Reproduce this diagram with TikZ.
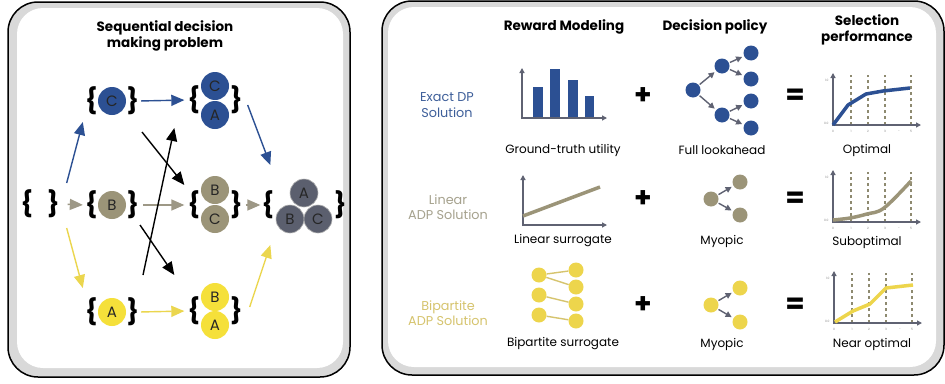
\documentclass[tikz,border=0pt]{standalone}
\usepackage{fontspec}
\setmainfont{Poppins}
\usetikzlibrary{arrows.meta,calc,positioning}

\definecolor{dpblue}{HTML}{2C5093}
\definecolor{lintan}{HTML}{9B9478}
\definecolor{linarr}{HTML}{9D9886}
\definecolor{bipyel}{HTML}{F5E03A}
\definecolor{bipdot}{HTML}{EDD54C}
\definecolor{biparr}{HTML}{EBD64E}
\definecolor{setgray}{HTML}{5B5F6E}
\definecolor{axisgray}{HTML}{5F6272}
\definecolor{dashtan}{HTML}{8E8A70}
\definecolor{bandgray}{HTML}{D9D9D9}
\definecolor{dptext}{HTML}{3E5F9A}
\definecolor{lintext}{HTML}{A6A28E}
\definecolor{biptext}{HTML}{D6C46E}

\tikzset{
  setarr/.style={-{Triangle[length=13pt,width=11pt]}, line width=1.4pt},
  axarr/.style={-{Triangle[length=5pt,width=5pt]}, line width=1.3pt, axisgray},
  treearr/.style={-{Triangle[length=6pt,width=6pt]}, line width=1.4pt, axisgray,
    shorten <=1pt, shorten >=2pt},
  crc/.style={circle, minimum size=28pt, inner sep=0pt, text=black!85,
    font=\fontsize{15}{15}\selectfont},
  dot/.style={circle, minimum size=15pt, inner sep=0pt},
  setnode/.style={inner sep=0pt, font=\fontsize{25}{25}\selectfont\bfseries},
  lbl/.style={font=\fontsize{12}{14}\selectfont},
  hdr/.style={font=\fontsize{13.5}{16}\selectfont\bfseries, align=center},
  rowlbl/.style={font=\fontsize{12.8}{15.5}\selectfont, align=center},
  opsign/.style={font=\fontsize{28}{28}\selectfont\bfseries},
  tick/.style={font=\fontsize{3}{3}\selectfont, text=gray}
}

% axes, dashed steps and tick labels of one performance chart
\newcommand{\perfaxes}[2]{
  \foreach \dx in {18,35,52,78}
    \draw[dashtan, line width=1.2pt, dash pattern=on 3pt off 3pt] (#1+\dx,#2) -- (#1+\dx,#2-50);
  \draw[axarr] (#1,#2+1) -- (#1,#2-52);
  \draw[axarr] (#1-1,#2) -- (#1+88,#2);
  \foreach \dx/\t in {0/0,18/1,35/2,52/3,66/{...},78/5}
    \node[tick] at (#1+\dx,#2+6) {\t};
  \node[tick, anchor=east] at (#1-1,#2-45) {1.0};
  \node[tick, anchor=east] at (#1-1,#2-2) {0.0};
}

\begin{document}
\begin{tikzpicture}[x=1pt, y=-1pt]
  \useasboundingbox (0,0) rectangle (945,383);

  % panels
  \draw[line width=1.5pt, fill=bandgray, rounded corners=30pt] (8,2) rectangle (350,377);
  \fill[white, rounded corners=26pt] (17,8) rectangle (343,368);
  \draw[line width=1.5pt, fill=bandgray, rounded corners=30pt] (382,1) rectangle (944,375);
  \fill[white, rounded corners=26pt] (388,7) rectangle (936,367);

  % left panel: sets of selected items
  \node[hdr] (title) at (165,36) {Sequential decision\\making problem};

  \node[setnode] (e) at (40,204) {\{\hspace{14pt}\}};
  \node[setnode] (sC) at (112,101) {\{\hspace{29pt}\}};
  \node[setnode] (sB) at (112,205) {\{\hspace{29pt}\}};
  \node[setnode] (sA) at (112,312) {\{\hspace{29pt}\}};
  \node[setnode] (sCA) at (215,100) {\{\hspace{30pt}\}};
  \node[setnode] (sBC) at (215,205) {\{\hspace{30pt}\}};
  \node[setnode] (sBA) at (215,311) {\{\hspace{30pt}\}};
  \node[setnode] (sABC) at (304,205) {\{\hspace{60pt}\}};

  \node[crc, fill=dpblue] (cC) at (112,101) {C};
  \node[crc, fill=lintan] (cB) at (112,205) {B};
  \node[crc, fill=bipyel] (cA) at (112,312) {A};
  \node[crc, fill=dpblue] (cCA1) at (215,86) {C};
  \node[crc, fill=dpblue] (cCA2) at (215,115) {A};
  \node[crc, fill=lintan] (cBC1) at (215,190) {B};
  \node[crc, fill=lintan] (cBC2) at (215,219) {C};
  \node[crc, fill=bipyel] (cBA1) at (215,297) {B};
  \node[crc, fill=bipyel] (cBA2) at (215,325) {A};
  \node[crc, fill=setgray, draw=gray!60, line width=0.6pt] (cABC1) at (304,193) {A};
  \node[crc, fill=setgray, draw=gray!60, line width=0.6pt] (cABC2) at (290,219) {B};
  \node[crc, fill=setgray, draw=gray!60, line width=0.6pt] (cABC3) at (318,219) {C};

  % transitions
  \draw[setarr, dpblue] ($(e.east)+(7,-21)$) -- ($(sC.west)+(-2,21)$);
  \draw[setarr, linarr, shorten <=8pt, shorten >=2pt] (e.east) -- (sB.west);
  \draw[setarr, biparr] ($(e.east)+(7,24)$) -- ($(sA.west)+(-2,-24)$);
  \draw[setarr, dpblue, shorten <=2pt, shorten >=3pt] (sC.east) -- (sCA.west);
  \draw[setarr, linarr, shorten <=4pt, shorten >=3pt] (sB.east) -- (sBC.west);
  \draw[setarr, biparr, shorten <=2pt, shorten >=3pt] (sA.east) -- (sBA.west);
  \draw[setarr, dpblue] ($(sCA.east)+(5,5)$) -- ($(sABC.west)+(9,-40)$);
  \draw[setarr, linarr, shorten <=3pt, shorten >=1pt] (sBC.east) -- (sABC.west);
  \draw[setarr, biparr] ($(sBA.east)+(7,-4)$) -- ($(sABC.west)+(9,40)$);

  % crossing transitions
  \draw[setarr] ($(cC)+(30,31)$) -- ($(sBC.west)+(-3,-20)$);
  \draw[setarr] ($(cB)+(28,20)$) -- ($(sBA.west)+(-13,-36)$);
  \draw[setarr] ($(cA)+(31,-37)$) -- ($(sCA.west)+(-13,28)$);

  % right panel: headers
  \node[hdr] (hreward) at (564,27) {Reward Modeling};
  \node[hdr] (hpolicy) at (715,27) {Decision policy};
  \node[hdr] (hperf) at (867,30) {Selection\\performance};

  \node[rowlbl, text=dptext] (rdp) at (447,105) {Exact DP\\Solution};
  \node[rowlbl, text=lintext] (rlin) at (448,207) {Linear\\ADP Solution};
  \node[rowlbl, text=biptext] (rbip) at (448,313) {Bipartite\\ADP Solution};

  % row 1: exact DP
  \draw[axarr] (522,119) -- (522,68);
  \draw[axarr] (521,118) -- (607,118);
  \fill[dpblue] (533,117) rectangle (543,87);
  \fill[dpblue] (550,117) rectangle (560,69);
  \fill[dpblue] (568,117) rectangle (578,80);
  \fill[dpblue] (585,117) rectangle (594,96);
  \node[lbl] (ugt) at (563,150) {Ground-truth utility};
  \node[opsign] (plus1) at (643,96) {+};

  \node[dot, fill=dpblue] (r1) at (693,90) {};
  \node[dot, fill=dpblue] (m1) at (722,66) {};
  \node[dot, fill=dpblue] (m2) at (722,115) {};
  \node[dot, fill=dpblue] (l1) at (751,53) {};
  \node[dot, fill=dpblue] (l2) at (751,79) {};
  \node[dot, fill=dpblue] (l3) at (751,101) {};
  \node[dot, fill=dpblue] (l4) at (751,128) {};
  \draw[treearr] (r1) -- (m1);
  \draw[treearr] (r1) -- (m2);
  \draw[treearr] (m1) -- (l1);
  \draw[treearr] (m1) -- (l2);
  \draw[treearr] (m2) -- (l3);
  \draw[treearr] (m2) -- (l4);
  \node[lbl] (pfull) at (722,150) {Full lookahead};
  \node[opsign] (eq1) at (795,97) {=};

  \perfaxes{833}{125}
  \draw[dpblue, line width=3.5pt, line join=round] (833,125) -- (848,105) -- (866,94) -- (883,91) -- (910,88);
  \node[lbl] (popt) at (867,150) {Optimal};

  % row 2: linear ADP
  \draw[axarr] (523,226) -- (523,175);
  \draw[axarr] (522,225) -- (607,225);
  \draw[lintan, line width=3.5pt] (523,216) -- (600,187);
  \node[lbl] (ulin) at (563,241) {Linear surrogate};
  \node[opsign] (plus2) at (643,199) {+};

  \node[dot, fill=lintan] (r2) at (711,199) {};
  \node[dot, fill=lintan] (a2) at (740,182) {};
  \node[dot, fill=lintan] (b2) at (740,215) {};
  \draw[treearr] (r2) -- (a2);
  \draw[treearr] (r2) -- (b2);
  \node[lbl] (pmyo2) at (722,241) {Myopic};
  \node[opsign] (eq2) at (795,200) {=};

  \perfaxes{833}{222}
  \draw[lintan, line width=3.5pt] plot[smooth, tension=0.6] coordinates {(833,220) (850,218) (867,214) (884,208) (911,181)};
  \node[lbl] (psub) at (867,242) {Suboptimal};

  % row 3: bipartite ADP
  \node[dot, fill=bipdot] (u1) at (539,275) {};
  \node[dot, fill=bipdot] (u2) at (539,295) {};
  \node[dot, fill=bipdot] (u3) at (539,315) {};
  \node[dot, fill=bipdot] (v1) at (576,270) {};
  \node[dot, fill=bipdot] (v2) at (576,287) {};
  \node[dot, fill=bipdot] (v3) at (576,304) {};
  \node[dot, fill=bipdot] (v4) at (576,321) {};
  \draw[biptext, line width=1.4pt] (u1) -- (v1);
  \draw[biptext, line width=1.4pt] (u1) -- (v2);
  \draw[biptext, line width=1.4pt] (u2) -- (v3);
  \draw[biptext, line width=1.4pt] (u3) -- (v4);
  \node[lbl] (ubip) at (563,344) {Bipartite surrogate};
  \node[opsign] (plus3) at (643,305) {+};

  \node[dot, fill=bipdot] (r3) at (711,305) {};
  \node[dot, fill=bipdot] (a3) at (740,288) {};
  \node[dot, fill=bipdot] (b3) at (740,322) {};
  \draw[treearr] (r3) -- (a3);
  \draw[treearr] (r3) -- (b3);
  \node[lbl] (pmyo3) at (722,344) {Myopic};
  \node[opsign] (eq3) at (795,306) {=};

  \perfaxes{834}{323}
  \draw[bipdot, line width=3.5pt, line join=round] (835,322) -- (853,311) -- (870,304) -- (886,288) -- (913,285);
  \node[lbl] (pnear) at (872,344) {Near optimal};
\end{tikzpicture}
\end{document}
